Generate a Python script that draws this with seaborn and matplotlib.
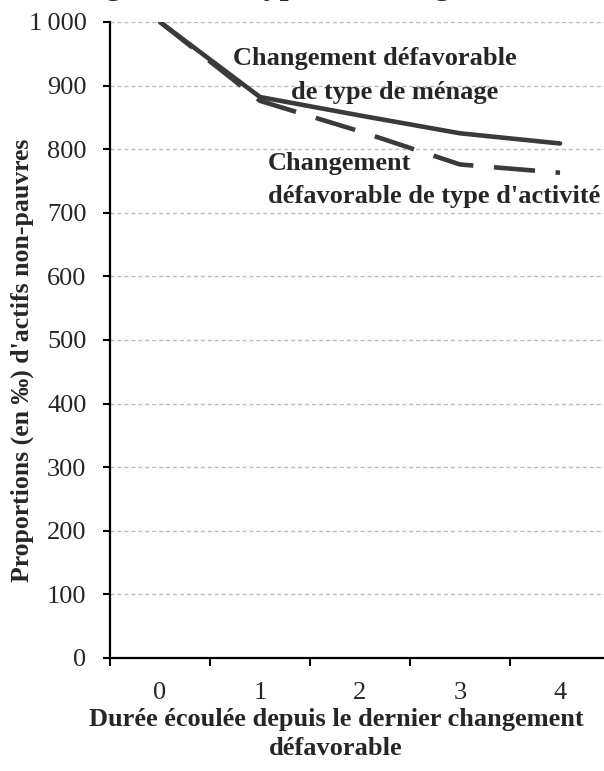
import pandas as pd
import matplotlib
matplotlib.use('Agg')
import matplotlib.pyplot as plt
from matplotlib.ticker import FuncFormatter, FixedLocator
import seaborn as sns

# valeurs (en pour mille)
duree = [0, 1, 2, 3, 4]
menage = [1000, 882, 853, 825, 809]
activite = [1000, 876, 828, 776, 763]
xlabels = ['0', '1', '2', '3', '4']

df = pd.DataFrame({
    'duree': duree * 2,
    'valeur': menage + activite,
    'serie': ['menage'] * 5 + ['activite'] * 5,
})

sns.set_style('white')
plt.rcParams['font.family'] = ['Liberation Serif', 'DejaVu Serif']

fig = plt.figure(figsize=(6.04, 7.71), dpi=100)
ax = fig.add_axes([110 / 604, 1 - 658 / 771, 500 / 604, 636 / 771])

sns.lineplot(data=df, x='duree', y='valeur', style='serie',
             dashes={'menage': '', 'activite': (9, 4.5)},
             color='#3a3a3a', linewidth=3.3, legend=False, ax=ax)

ax.set_xlim(-0.5, 4.5)
ax.set_ylim(0, 1000)

ax.set_yticks(range(0, 1001, 100))
ax.yaxis.set_major_formatter(FuncFormatter(lambda v, p: f'{int(v):,}'.replace(',', '\u2009')))
ax.tick_params(axis='y', which='major', direction='out', length=5, width=1.5,
               color='black', labelsize=19, pad=12, left=True)

ax.set_xticks(duree)
ax.set_xticklabels(xlabels)
ax.xaxis.set_minor_locator(FixedLocator([-0.5, 0.5, 1.5, 2.5, 3.5, 4.5]))
ax.tick_params(axis='x', which='major', length=0, labelsize=19, pad=17)
ax.tick_params(axis='x', which='minor', direction='out', length=6, width=1.5,
               color='black', bottom=True)

ax.yaxis.grid(True, color='#bdbdbd', linestyle=(0, (3, 2)), linewidth=1)
ax.xaxis.grid(False)
ax.set_axisbelow(True)

for s in ['top', 'right']:
    ax.spines[s].set_visible(False)
for s in ['left', 'bottom']:
    ax.spines[s].set_color('black')
    ax.spines[s].set_linewidth(1.6)

ax.set_xlabel("Durée écoulée depuis le dernier changement\ndéfavorable",
              fontsize=19, fontweight='bold', linespacing=1.35)
ax.xaxis.set_label_coords((336 - 110) / 500, (658 - 708) / 636)
ax.xaxis.label.set_verticalalignment('top')

ax.set_ylabel("Proportions (en \u2030) d'actifs non-pauvres",
              fontsize=18.5, fontweight='bold')
ax.yaxis.set_label_coords(-76 / 500, (658 - 360) / 636)

ax.text(2.15, 943, 'Changement défavorable', ha='center', va='center',
        fontsize=19, fontweight='bold')
ax.text(2.35, 889, 'de type de ménage', ha='center', va='center',
        fontsize=19, fontweight='bold')
ax.text(1.08, 778, 'Changement', ha='left', va='center',
        fontsize=19, fontweight='bold')
ax.text(1.08, 726, "défavorable de type d'activité", ha='left', va='center',
        fontsize=19, fontweight='bold')

# titre coupé en haut de l'image
fig.text(31 / 604, 1 + 6 / 771, 'Changement de type de ménage', ha='left',
         va='baseline', fontsize=23, fontweight='bold')

fig.savefig('out.png', dpi=100)
